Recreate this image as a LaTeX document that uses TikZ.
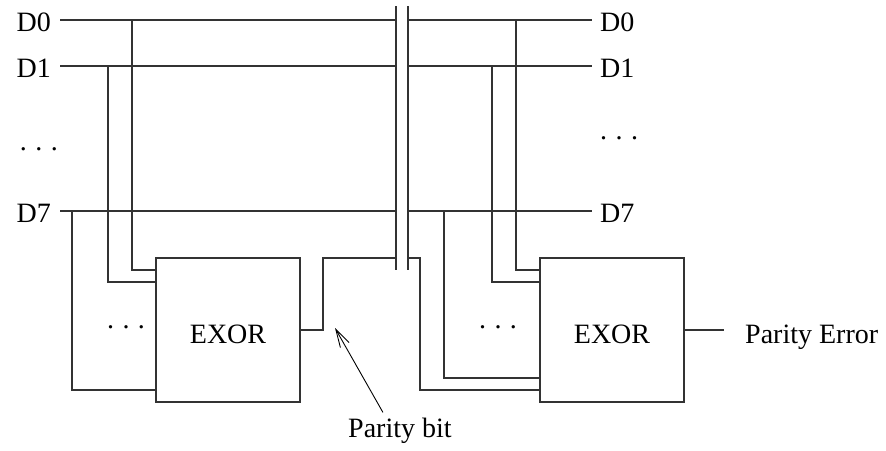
\documentclass[tikz,border=0pt]{standalone}
\usepackage{fontspec}
\setmainfont{Liberation Serif}
\usetikzlibrary{arrows.meta}
\tikzset{
  gate/.style={draw,line width=1.2pt,black!80,text=black,minimum width=144pt,minimum height=144pt,inner sep=0pt,text height=26pt,text depth=0pt},
  lbl/.style={inner sep=0pt},
  wire/.style={line width=1.2pt,black!80},
  pointer/.style={line width=0.9pt,-{Straight Barb[length=18pt,width=10pt]}},
}
\newcommand{\wdots}{.\kern.3em.\kern.3em.}
\begin{document}
\begin{tikzpicture}[x=1pt,y=-1pt,font=\fontsize{28}{34}\selectfont]
        \useasboundingbox (0,0) rectangle (886,450);
        \coordinate (cutl) at (396,6);
        \coordinate (cutr) at (408,6);
        \draw[wire] (cutl)--++(0,264);
        \draw[wire] (cutr)--++(0,264);
        \coordinate (a0) at (60,20);
        \coordinate (a1) at (60,66);
        \coordinate (a7) at (60,211);
        \node[lbl,anchor=base east] (l0) at ([xshift=-9pt,yshift=-11pt]a0) {D0};
        \node[lbl,anchor=base east] (l1) at ([xshift=-9pt,yshift=-11pt]a1) {D1};
        \node[lbl,anchor=base east] (l7) at ([xshift=-9pt,yshift=-11pt]a7) {D7};
        \node[lbl,anchor=base east] (ldots) at (58,150) {\wdots};
        \draw[wire] (a0)--(a0 -| cutl);
        \draw[wire] (a1)--(a1 -| cutl);
        \draw[wire] (a7)--(a7 -| cutl);
        \coordinate (b0) at (592,20);
        \coordinate (b1) at (592,66);
        \coordinate (b7) at (592,211);
        \node[lbl,anchor=base west] (r0) at ([xshift=8pt,yshift=-11pt]b0) {D0};
        \node[lbl,anchor=base west] (r1) at ([xshift=8pt,yshift=-11pt]b1) {D1};
        \node[lbl,anchor=base west] (r7) at ([xshift=8pt,yshift=-11pt]b7) {D7};
        \node[lbl,anchor=base west] (rdots) at (600,139) {\wdots};
        \draw[wire] (b0 -| cutr)--(b0);
        \draw[wire] (b1 -| cutr)--(b1);
        \draw[wire] (b7 -| cutr)--(b7);
        \node[gate] (xl) at (228,330) {EXOR};
        \node[gate] (xr) at (612,330) {EXOR};
        \coordinate (ta0) at (132,20);
        \coordinate (ta1) at (108,66);
        \coordinate (ta7) at (72,211);
        \draw[wire] (ta0) |- ([yshift=60pt]xl.west);
        \draw[wire] (ta1) |- ([yshift=48pt]xl.west);
        \draw[wire] (ta7) |- ([yshift=-60pt]xl.west);
        \node[lbl] (xldots) at (126,327) {\wdots};
        \coordinate (tb0) at (516,20);
        \coordinate (tb1) at (492,66);
        \coordinate (tb7) at (444,211);
        \draw[wire] (tb0) |- ([yshift=60pt]xr.west);
        \draw[wire] (tb1) |- ([yshift=48pt]xr.west);
        \draw[wire] (tb7) |- ([yshift=-48pt]xr.west);
        \node[lbl] (xrdots) at (498,327) {\wdots};
        \coordinate (pa) at (323,258);
        \coordinate (pc) at (420,258);
        \draw[wire] (xl.east) -| (pa)--(pa -| cutl);
        \draw[wire] (pc -| cutr)--(pc) |- ([yshift=-60pt]xr.west);
        \draw[wire] (xr.east)--++(39,0)coordinate (pout);
        \node[lbl,anchor=base west] (pe) at (745,343) {Parity Error};
        \coordinate (pbt) at (335,328);
        \node[lbl,anchor=base west] (pb) at (348,437) {Parity bit};
        \draw[pointer] ([xshift=-17pt,yshift=5pt]pb.north)--(pbt);
    \end{tikzpicture}
\end{document}
